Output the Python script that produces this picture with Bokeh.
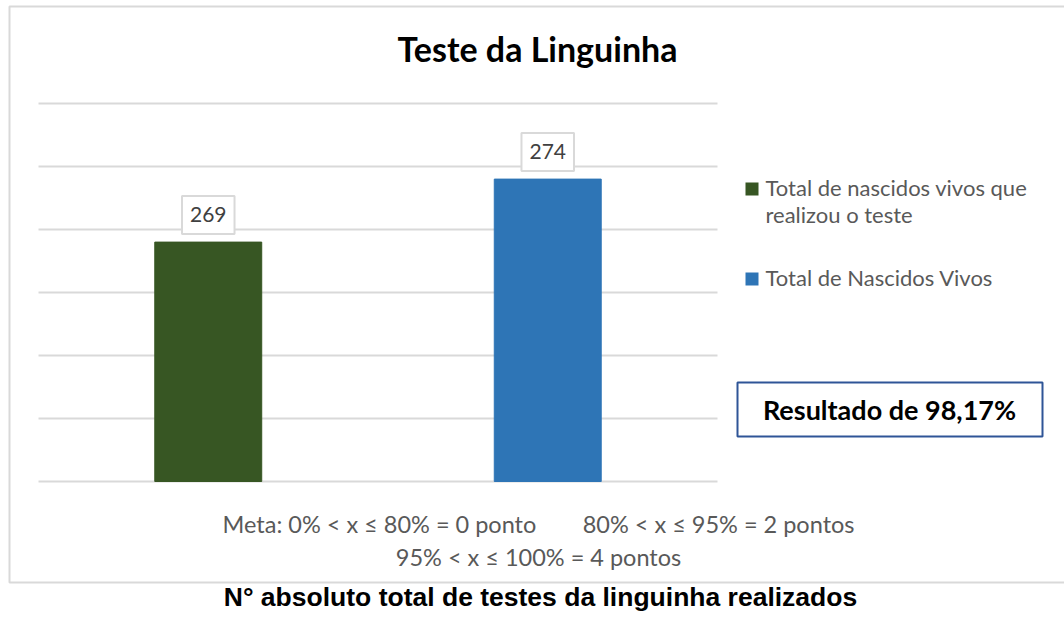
from bokeh.plotting import figure
from bokeh.models import ColumnDataSource, Range1d
from bokeh.core.properties import value
from bokeh.embed import file_html
from bokeh.resources import INLINE

# ---- data ----
categories = ["Total de nascidos vivos que realizou o teste", "Total de Nascidos Vivos"]
counts = [269, 274]
bar_colors = ["#375623", "#2E75B6"]
legend_lines = [["Total de nascidos vivos que", "realizou o teste"], ["Total de Nascidos Vivos"]]
grid_values = [250, 255, 260, 265, 270, 275, 280]
title_text = "Teste da Linguinha"
result_text = "Resultado de 98,17%"
meta_line1a = "Meta: 0% < x ≤ 80% = 0 ponto"
meta_line1b = "80% < x ≤ 95% = 2 pontos"
meta_line2 = "95% < x ≤ 100% = 4 pontos"
caption_text = "N° absoluto total de testes da linguinha realizados"

FONT = "Lato"
GRAY = "#595959"

# ---- layout (canvas pixels) ----
W, H = 1064, 617
PLOT_L, PLOT_R, PLOT_T, PLOT_B = 38, 717, 103, 481
vmin, vmax = grid_values[0], grid_values[-1]
ppu = (PLOT_B - PLOT_T) / (vmax - vmin)              # pixels per value unit
v_range = Range1d(vmin - (H - PLOT_B) / ppu, vmax + PLOT_T / ppu)
slot = (PLOT_R - PLOT_L) / len(categories)          # pixels per category
c_range = Range1d(-0.5 - PLOT_L / slot, -0.5 + (W - PLOT_L) / slot)

idx = list(range(len(categories)))
src = ColumnDataSource(dict(idx=idx, cat=categories, n=counts, color=bar_colors,
                            lbl=[str(v) for v in counts]))

p = figure(x_range=Range1d(0, W), y_range=Range1d(H, 0),
           frame_width=W, frame_height=H, min_border=0,
           x_axis_location=None, y_axis_location=None,
           output_backend="svg", toolbar_location=None)
p.extra_y_ranges = {"v": v_range}
p.extra_x_ranges = {"c": c_range}
p.outline_line_color = None
p.background_fill_color = "white"
p.border_fill_color = "white"
for g in p.grid:
    g.visible = False

# outer frame
p.quad(left=9, right=W + 20, top=6, bottom=582, fill_alpha=0,
       line_color="#D9D9D9", line_width=2)

# gridlines along value scale
p.segment(x0=PLOT_L, x1=PLOT_R, y0=grid_values, y1=grid_values, y_range_name="v",
          line_color="#D9D9D9", line_width=2)

# bars
p.vbar(x="idx", top="n", bottom=vmin, width=0.315, color="color", source=src,
       x_range_name="c", y_range_name="v")

# value labels
p.text(x="idx", y="n", text="lbl", source=src, x_range_name="c", y_range_name="v",
       text_align="center", text_baseline="bottom", y_offset=-8,
       text_font=value(FONT), text_font_size="21px", text_color="#404040",
       border_line_color="#D9D9D9", border_line_width=2,
       background_fill_color="white", padding=dict(left=8, right=8, top=11, bottom=12))

def label(x, base, text, size, align="left", bold=False, color=GRAY, font=FONT):
    # base = desired baseline position; shift for renderer's baseline placement
    p.text(x=[x], y=[base - 0.39 * size], text=[text], text_align=align,
           text_baseline="alphabetic", text_font=value(font), text_font_size=f"{size}px",
           text_font_style="bold" if bold else "normal", text_color=color)

# title
label(537, 61, title_text, 34, align="center", bold=True, color="black")

# legend
sq_top = [182, 272]
line_base = [[196, 223], [286]]
p.quad(left=[745] * 2, right=[758] * 2, top=sq_top, bottom=[t + 13 for t in sq_top],
       fill_color=bar_colors, line_alpha=0)
for i in idx:
    for j, line in enumerate(legend_lines[i]):
        label(765, line_base[i][j], line, 22)

# result box
p.quad(left=737, right=1042, top=382, bottom=436, fill_alpha=0,
       line_color="#2F5597", line_width=2)
label(889, 420, result_text, 27, align="center", bold=True, color="black")

# meta text
label(222, 533, meta_line1a, 23.5)
label(854, 533, meta_line1b, 23.5, align="right")
label(538, 566, meta_line2, 23.5, align="center")

# caption
label(540, 607, caption_text, 26.5, align="center", bold=True, color="black",
      font="Liberation Sans")

open("out.html", "w").write(file_html(p, INLINE))
